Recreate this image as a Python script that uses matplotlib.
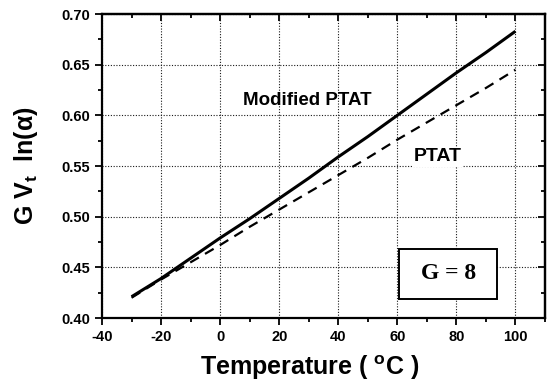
import matplotlib
matplotlib.use("Agg")
import matplotlib.pyplot as plt
from matplotlib.ticker import MultipleLocator
from matplotlib.patches import Rectangle

# data
temp = [-30, -20, -10, 0, 10, 20, 30, 40, 50, 60, 70, 80, 90, 100]
modified_ptat = [0.421, 0.439, 0.459, 0.479, 0.498, 0.518, 0.538,
                 0.559, 0.579, 0.600, 0.621, 0.642, 0.662, 0.683]
ptat = [0.420, 0.438, 0.455, 0.472, 0.490, 0.507, 0.524,
        0.541, 0.558, 0.576, 0.593, 0.610, 0.627, 0.645]

plt.rcParams['font.family'] = ['Liberation Sans', 'DejaVu Sans']
plt.rcParams['axes.unicode_minus'] = False

fig = plt.figure(figsize=(5.47, 3.85), dpi=100)
ax = fig.add_axes([0.1865, 0.174, 0.8098, 0.7896])

ax.plot(temp, modified_ptat, color='k', lw=2.2, solid_capstyle='butt')
ln, = ax.plot(temp, ptat, color='k', lw=1.6)
ln.set_dashes((4.5, 3.2))

ax.set_xlim(-40, 110)
ax.set_ylim(0.40, 0.70)
ax.xaxis.set_major_locator(MultipleLocator(20))
ax.xaxis.set_minor_locator(MultipleLocator(10))
ax.yaxis.set_major_locator(MultipleLocator(0.05))
ax.yaxis.set_minor_locator(MultipleLocator(0.025))
ax.yaxis.set_major_formatter(matplotlib.ticker.FormatStrFormatter('%.2f'))

ax.grid(True, which='major', color='0.1', lw=0.8, linestyle=(0, (1, 1.5)))

for s in ax.spines.values():
    s.set_linewidth(1.6)

ax.tick_params(which='both', direction='out', width=1.3, labelsize=10.5)
ax.tick_params(which='major', length=5)
ax.tick_params(which='minor', length=3)
for lab in ax.get_xticklabels() + ax.get_yticklabels():
    lab.set_fontweight('bold')

# top / right ticks point inward
top = ax.secondary_xaxis('top')
top.xaxis.set_major_locator(MultipleLocator(20))
top.xaxis.set_minor_locator(MultipleLocator(10))
top.tick_params(which='both', direction='in', width=1.3, labeltop=False)
top.tick_params(which='major', length=5)
top.tick_params(which='minor', length=3)
top.spines['top'].set_linewidth(1.6)
right = ax.secondary_yaxis('right')
right.yaxis.set_major_locator(MultipleLocator(0.05))
right.yaxis.set_minor_locator(MultipleLocator(0.025))
right.tick_params(which='both', direction='in', width=1.3, labelright=False)
right.tick_params(which='major', length=5)
right.tick_params(which='minor', length=3)
right.spines['right'].set_linewidth(1.6)

xl = ax.set_xlabel('Temperature ( $\\mathregular{^o}$C )', fontsize=18, fontweight='bold')
yl = ax.set_ylabel('G V$_\\mathregular{t}$  ln(α)', fontsize=18, fontweight='bold')
xl.set_va('center')
yl.set_va('center')
ax.xaxis.set_label_coords(0.47, -0.165)
ax.yaxis.set_label_coords(-0.172, 0.50)

ax.text(29.5, 0.615, 'Modified PTAT', fontsize=13.5, fontweight='bold', ha='center', va='center')
ax.text(73.6, 0.559, 'PTAT', fontsize=14, fontweight='bold', ha='center', va='center',
        bbox=dict(facecolor='white', edgecolor='none', pad=1))
ax.add_patch(Rectangle((60.7, 0.419), 32.9, 0.049, facecolor='white',
                       edgecolor='k', lw=1.4, zorder=3))
ax.text(77.2, 0.4435, 'G = 8', fontsize=17, fontweight='bold', family='Liberation Serif',
        ha='center', va='center', zorder=4)

fig.savefig('out.png', dpi=100)
